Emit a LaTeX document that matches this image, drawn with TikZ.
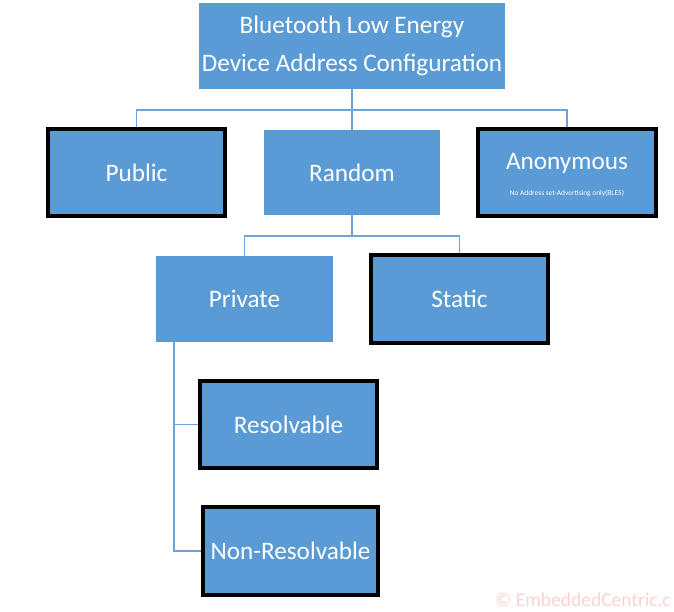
\documentclass[tikz,border=0pt]{standalone}
\usepackage{fontspec}
\setmainfont{Carlito}
\definecolor{boxblue}{HTML}{5B9BD5}
\definecolor{linkblue}{HTML}{6FA3D8}
\definecolor{wmpink}{HTML}{F9D3D3}
\begin{document}
\begin{tikzpicture}[x=1pt,y=-1pt,
  plainbox/.style={rectangle,fill=boxblue,draw=none,text=white,inner sep=0pt,
    font=\fontsize{25.2}{38}\selectfont,align=center},
  framebox/.style={plainbox,draw=black,line width=4pt},
  link/.style={draw=linkblue,line width=1.5pt}]
\useasboundingbox (0,0) rectangle (674,611);
\clip (0,0) rectangle (674,611);

\node[plainbox,minimum width=306pt,minimum height=86pt] (top) at (352,46)
  {Bluetooth Low Energy\\Device Address Configuration};
\node[framebox,minimum width=177pt,minimum height=87pt] (public) at (136.5,172.5) {Public};
\node[plainbox,minimum width=176pt,minimum height=85pt] (random) at (352,172.5) {Random};
\node[framebox,minimum width=178pt,minimum height=87pt] (anon) at (567,172.5) {};
\node[text=white,font=\fontsize{25.2}{30}\selectfont] (anontxt) at (567,163) {Anonymous};
\node[text=white,font=\fontsize{7.4}{9}\selectfont] (anonsub) at (567,193) {No Address set-Advertising only(BLE5)};
\node[plainbox,minimum width=177pt,minimum height=86pt] (private) at (244.5,299) {Private};
\node[framebox,minimum width=177pt,minimum height=88pt] (static) at (459.5,299) {Static};
\node[framebox,minimum width=177pt,minimum height=87pt] (res) at (288.5,424.5) {Resolvable};
\node[framebox,minimum width=175pt,minimum height=88pt] (nonres) at (290.5,551) {Non-Resolvable};

\coordinate (bus1) at (0,110);
\coordinate (bus2) at (0,236);
\coordinate (vx) at (174,0);

\draw[link] (top.south) -- (top.south |- bus1) -| (public.north);
\draw[link] (top.south |- bus1) -| (anon.north);
\draw[link] (top.south |- bus1) -- (random.north);
\draw[link] (random.south) -- (random.south |- bus2) -| (private.north);
\draw[link] (random.south |- bus2) -| (static.north);
\draw[link] (private.south -| vx) |- (res.west);
\draw[link] (private.south -| vx) |- (nonres.west);

\node[anchor=west,text=wmpink,font=\fontsize{19.5}{23}\selectfont,inner sep=0pt] (wm) at (495,600) {© EmbeddedCentric.c};
\end{tikzpicture}
\end{document}
